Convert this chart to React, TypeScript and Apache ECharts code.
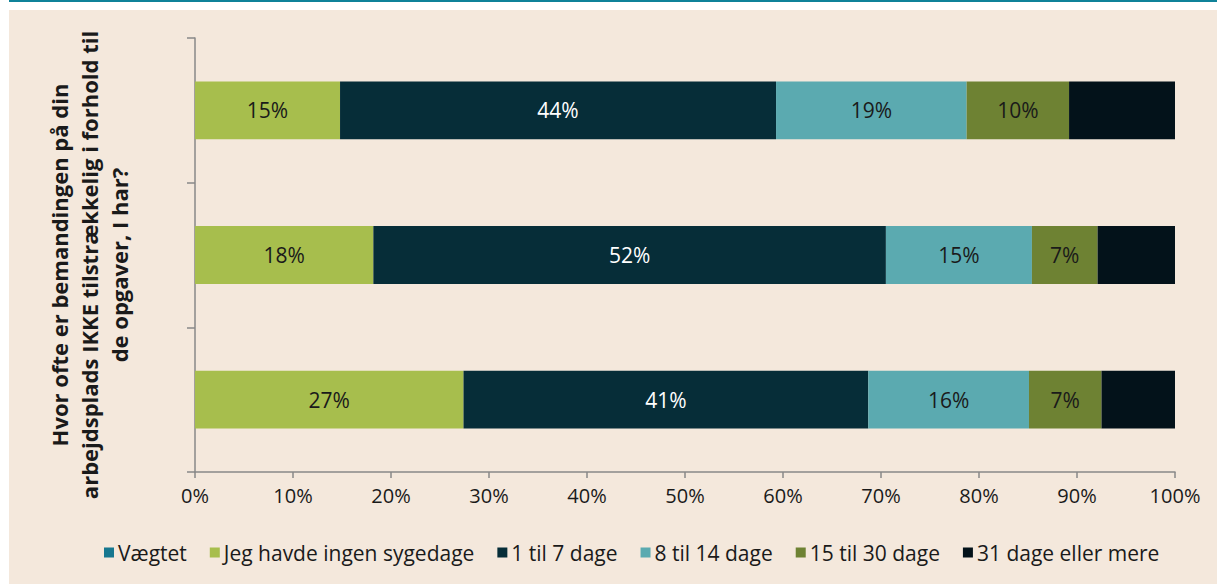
import React, { useEffect, useRef } from "react";
import * as echarts from "echarts";

const categories = ["Række 3", "Række 2", "Række 1"];
const seriesNames = [
  "Vægtet",
  "Jeg havde ingen sygedage",
  "1 til 7 dage",
  "8 til 14 dage",
  "15 til 30 dage",
  "31 dage eller mere",
];
// bottom row first (category axis goes bottom -> top)
const vaegtet = [0, 0, 0];
const ingen = [27.4, 18.2, 14.8];
const d1til7 = [41.3, 52.3, 44.49];
const d8til14 = [16.4, 14.9, 19.45];
const d15til30 = [7.4, 6.7, 10.45];
const d31plus = [7.5, 7.9, 10.81];
const xTicks = [0, 10, 20, 30, 40, 50, 60, 70, 80, 90, 100];

const colors = ["#16778F", "#A7BE4D", "#062D38", "#5BAAB0", "#6E8233", "#03121A"];
const labelColors = ["#1a1a1a", "#1a1a1a", "#ffffff", "#1a1a1a", "#1a1a1a", "#1a1a1a"];
const showLabel = [false, true, true, true, true, false];

export default function App() {
  const ref = useRef<HTMLDivElement>(null);
  useEffect(() => {
    if (!ref.current) return;
    const chart = echarts.init(ref.current, undefined, { renderer: "svg" });
    const data = [vaegtet, ingen, d1til7, d8til14, d15til30, d31plus];
    const font = "'Open Sans', 'Noto Sans', sans-serif";
    chart.setOption({
      animation: false,
      backgroundColor: "#ffffff",
      textStyle: { fontFamily: font },
      graphic: [
        { type: "rect", shape: { x: 9, y: 10, width: 1208, height: 574 }, style: { fill: "#F4E8DC" }, z: -10, silent: true },
        { type: "rect", shape: { x: 9, y: 0, width: 1208, height: 2 }, style: { fill: "#0F8299" }, z: -10, silent: true },
      ],
      grid: { left: 195, right: 42, top: 38, bottom: 112, containLabel: false },
      legend: {
        bottom: 16,
        left: 99,
        itemWidth: 10,
        itemHeight: 10,
        itemGap: 23,
        icon: "rect",
        textStyle: { fontSize: 21, color: "#1a1a1a", fontFamily: font, padding: [0, 0, 0, -1] },
        data: seriesNames,
      },
      xAxis: {
        type: "value",
        min: 0,
        max: 100,
        interval: 10,
        axisLine: { show: true, lineStyle: { color: "#888888", width: 1.5 } },
        axisTick: { show: true, length: 6, lineStyle: { color: "#888888", width: 1.5 } },
        splitLine: { show: false },
        axisLabel: { fontSize: 20, color: "#1a1a1a", margin: 13, formatter: (v: number) => (xTicks.includes(v) ? v + "%" : "") },
      },
      yAxis: {
        type: "category",
        data: categories,
        axisLine: { show: true, lineStyle: { color: "#888888", width: 1.5 } },
        axisTick: { show: true, length: 8, lineStyle: { color: "#888888", width: 1.5 } },
        axisLabel: { show: false },
        name: "Hvor ofte er bemandingen på din\narbejdsplads IKKE tilstrækkelig i forhold til\nde opgaver, I har?",
        nameLocation: "middle",
        nameRotate: 90,
        nameGap: 61,
        nameTextStyle: { fontSize: 22, fontWeight: "bold", color: "#1a1a1a", lineHeight: 30, align: "center", padding: [0, 20, 0, 0] },
      },
      series: seriesNames.map((name, i) => ({
        name,
        type: "bar",
        stack: "total",
        barWidth: "40%",
        itemStyle: { color: colors[i] },
        label: {
          show: showLabel[i],
          position: "inside",
          fontSize: 21,
          color: labelColors[i],
          fontFamily: font,
          formatter: (p: any) => Math.round(p.value) + "%",
        },
        data: data[i],
      })),
    });
    return () => chart.dispose();
  }, []);
  return (
    <div style={{ position: "fixed", left: 0, top: 0, width: 1217, height: 584 }}>
      <div ref={ref} style={{ width: 1217, height: 584 }} />
    </div>
  );
}
